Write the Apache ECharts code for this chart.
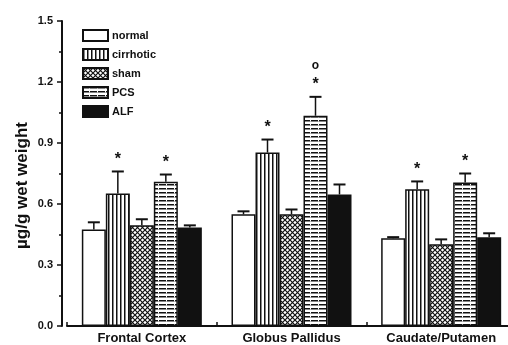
<!DOCTYPE html>
<html><head><meta charset="utf-8">
<script src="https://cdn.jsdelivr.net/npm/echarts@6/dist/echarts.min.js"></script>
<style>html,body{margin:0;padding:0;background:#fff;overflow:hidden}#c{width:516px;height:345px}</style>
</head><body><div id="c"></div>
<script>
const categories = ['Frontal Cortex', 'Globus Pallidus', 'Caudate/Putamen'];
const seriesNames = ['normal', 'cirrhotic', 'sham', 'PCS', 'ALF'];
const normal    = [0.475, 0.549, 0.431];
const cirrhotic = [0.652, 0.853, 0.672];
const sham      = [0.495, 0.549, 0.402];
const pcs       = [0.710, 1.034, 0.706];
const alf       = [0.485, 0.647, 0.436];
const normalErr    = [0.035, 0.015, 0.006];
const cirrhoticErr = [0.108, 0.064, 0.039];
const shamErr      = [0.030, 0.024, 0.024];
const pcsErr       = [0.035, 0.093, 0.044];
const alfErr       = [0.010, 0.049, 0.020];
const yTicks = [0.0, 0.3, 0.6, 0.9, 1.2, 1.5];
// significance marks: [category, series index, text]
const marks = [[0,1,'*'],[0,3,'*'],[1,1,'*'],[1,3,'*'],[1,3,'o'],[2,1,'*'],[2,3,'*']];

function pattern(kind){
  const c = document.createElement('canvas');
  const ctx = c.getContext('2d');
  if(kind==='v'){ c.width=4; c.height=4; ctx.fillStyle='#fff'; ctx.fillRect(0,0,4,4); ctx.fillStyle='#111'; ctx.fillRect(0,0,1.5,4); }
  if(kind==='h'){ c.width=8; c.height=4; ctx.fillStyle='#fff'; ctx.fillRect(0,0,8,4); ctx.fillStyle='#111'; ctx.fillRect(0,0,8,1.5); ctx.fillStyle='#fff'; ctx.fillRect(6,0,1,1.5);}
  if(kind==='x'){ c.width=5; c.height=5; ctx.fillStyle='#fff'; ctx.fillRect(0,0,5,5); ctx.strokeStyle='#111'; ctx.lineWidth=1.2;
    ctx.beginPath(); ctx.moveTo(0,0); ctx.lineTo(5,5); ctx.moveTo(5,0); ctx.lineTo(0,5); ctx.stroke(); }
  return {image:c, repeat:'repeat'};
}
const fills = ['#ffffff', pattern('v'), pattern('x'), pattern('h'), '#111111'];
const values = [normal, cirrhotic, sham, pcs, alf];
const errs = [normalErr, cirrhoticErr, shamErr, pcsErr, alfErr];
const BW = 24;
const font = '"Liberation Sans", Arial, sans-serif';

const barSeries = seriesNames.map((n,i)=>({
  name:n, type:'bar', data:values[i], barWidth:BW, barGap:'0%',
  itemStyle:{color:fills[i], borderColor:'#111', borderWidth:1.5},
  z:2
}));

const errData = [];
values.forEach((arr,si)=>arr.forEach((v,ci)=>errData.push([ci, v, v+errs[si][ci], si])));
const errSeries = {
  type:'custom', z:5, silent:true,
  data: errData,
  renderItem:(params, api)=>{
    const ci = api.value(0), si = api.value(3);
    const p0 = api.coord([ci, api.value(1)]);
    const p1 = api.coord([ci, api.value(2)]);
    const x = p0[0] + (si-2)*BW;
    return {type:'group', children:[
      {type:'line', shape:{x1:x,y1:p0[1],x2:x,y2:p1[1]}, style:{stroke:'#111', lineWidth:1.5}},
      {type:'line', shape:{x1:x-6,y1:p1[1],x2:x+6,y2:p1[1]}, style:{stroke:'#111', lineWidth:2}}
    ]};
  }
};
const markData = [];
const seen = {};
marks.forEach(m=>{
  const key=m[0]+'_'+m[1]; const lvl = seen[key]||0; seen[key]=lvl+1;
  markData.push([m[0], values[m[1]][m[0]] + errs[m[1]][m[0]], m[1], lvl, m[2]]);
});
const markSeries = {
  type:'custom', z:6, silent:true,
  data: markData,
  renderItem:(params, api)=>{
    const ci = api.value(0), si = api.value(2), lvl = api.value(3);
    const d = markData[params.dataIndex];
    const p = api.coord([ci, api.value(1)]);
    const x = p[0] + (si-2)*BW;
    const y = p[1] - 12 - lvl*19;
    return {type:'text', style:{text:d[4], x:x, y:y, align:'center', verticalAlign:'middle',
      font: d[4]==='*' ? 'bold 16px '+font : 'bold 12px '+font, fill:'#111'}};
  }
};

const chart = echarts.init(document.getElementById('c'), null, {renderer:'canvas'});
chart.setOption({
  animation:false,
  backgroundColor:'#fff',
  grid:{left:67, right:0, top:21, bottom:19},
  legend:{
    data:seriesNames, orient:'vertical', left:77, top:24, itemWidth:25, itemHeight:11, itemGap:6,
    icon:'rect',
    textStyle:{fontFamily:font, fontWeight:'bold', fontSize:11, color:'#111', padding:[0,0,0,-1]},
    selectedMode:false
  },
  xAxis:{
    type:'category', data:categories,
    axisLine:{lineStyle:{color:'#111', width:2}},
    axisTick:{show:true, length:4, inside:true, lineStyle:{color:'#111', width:1.5}},
    axisLabel:{fontFamily:font, fontWeight:'bold', fontSize:13, color:'#111', margin:6}
  },
  yAxis:{
    type:'value', min:0, max:1.5, interval:0.3, offset:5,
    name:'µg/g wet weight', nameLocation:'middle', nameGap:31, nameRotate:90, nameMoveOverlap:false,
    nameTextStyle:{fontFamily:font, fontWeight:'bold', fontSize:17, color:'#111', padding:[0,24,0,0]},
    axisLine:{show:true, lineStyle:{color:'#111', width:2}},
    axisTick:{show:true, length:5, lineStyle:{color:'#111', width:1.5}},
    minorTick:{show:true, splitNumber:2, length:3, lineStyle:{color:'#111', width:1.5}},
    splitLine:{show:false},
    axisLabel:{fontFamily:font, fontWeight:'bold', fontSize:11, color:'#111', margin:9,
      formatter:v=>{const t=yTicks.find(k=>Math.abs(k-v)<1e-6); return (t!==undefined?t:v).toFixed(1);}}
  },
  series:[...barSeries, errSeries, markSeries]
});
</script></body></html>
